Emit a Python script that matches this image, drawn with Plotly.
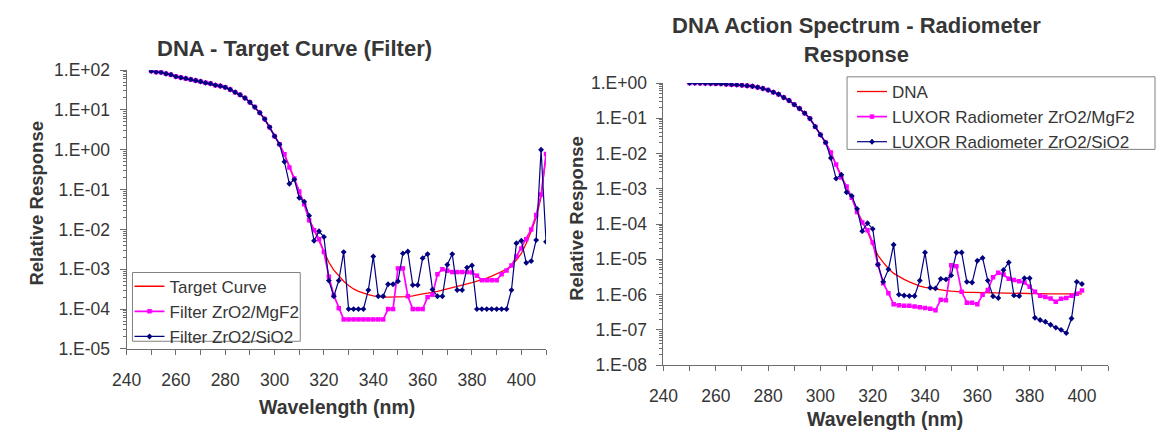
import plotly.graph_objects as go

# ---------------- data ----------------
wl_left = list(range(250, 412, 2))    # 250..410 nm
wl_right = list(range(250, 402, 2))   # 250..400 nm

left_target = [95, 90, 88, 81, 77, 69, 65, 62, 58.5, 55,
               52, 48, 46, 42, 40, 37, 32.6, 28, 24, 20,
               15.6, 11.8, 8.5, 5.9, 3.7, 2.2, 1.37, 0.75, 0.36, 0.19,
               0.09, 0.043, 0.018, 0.0095, 0.0055, 0.0028, 1.5e-3, 9.5e-4, 6.9e-4, 5.0e-4,
               3.9e-4, 3.2e-4, 2.8e-4, 2.5e-4, 2.3e-4, 2.15e-4, 2.05e-4, 2.0e-4, 2.0e-4, 2.0e-4,
               2.0e-4, 2.0e-4, 2.05e-4, 2.15e-4, 2.3e-4, 2.4e-4, 2.5e-4, 2.6e-4, 2.8e-4, 3.0e-4,
               3.2e-4, 3.4e-4, 3.7e-4, 4.0e-4, 4.3e-4, 4.6e-4, 5.0e-4, 5.3e-4, 6.0e-4, 6.7e-4,
               7.6e-4, 8.7e-4, 1.0e-3, 1.25e-3, 1.7e-3, 2.5e-3, 4.5e-3, 9.0e-3, 2.0e-2, 6.5e-2,
               0.7]

left_mgf2 = [95, 90, 88, 81, 77, 69, 65, 62, 58.5, 55,
             52, 48, 46, 42, 40, 37, 32.6, 28, 24, 20,
             15.6, 11.8, 8.5, 5.9, 3.7, 2.2, 1.37, 0.77, 0.36, 0.19,
             0.09, 0.043, 0.017, 0.0095, 0.0057, 0.0027, 6.5e-4, 2.2e-4, 1.05e-4, 5.5e-5,
             5.5e-5, 5.5e-5, 5.5e-5, 5.5e-5, 5.5e-5, 5.5e-5, 5.5e-5, 5.5e-5, 1.0e-4, 1.0e-4,
             1.05e-3, 1.05e-3, 2.1e-4, 1.0e-4, 1.0e-4, 1.0e-4, 2.0e-4, 2.3e-4, 7.5e-4, 1.0e-3,
             9.2e-4, 8.5e-4, 8.5e-4, 8.5e-4, 8.5e-4, 8.3e-4, 6.9e-4, 5.3e-4, 5.3e-4, 5.3e-4,
             5.3e-4, 7.5e-4, 9.3e-4, 1.25e-3, 2.1e-3, 3.3e-3, 5.7e-3, 1.0e-2, 2.3e-2, 7.5e-2,
             0.78]

left_sio2 = [95, 90, 88, 81, 77, 69, 65, 62, 58.5, 55,
             52, 48, 46, 42, 40, 37, 32.6, 28, 24, 20,
             15.6, 11.8, 8.5, 5.9, 3.7, 2.2, 1.37, 0.50, 0.14, 0.18,
             0.062, 0.050, 0.022, 0.0052, 0.0090, 0.0065, 5.2e-4, 2.1e-4, 5.2e-4, 2.7e-3,
             1e-4, 1e-4, 1e-4, 1e-4, 3.0e-4, 2.1e-3, 2.1e-4, 2.1e-4, 4.2e-4, 4.2e-4,
             5.0e-4, 2.5e-3, 2.8e-3, 4.0e-4, 4.0e-4, 1.9e-3, 2.4e-3, 3.1e-4, 2.1e-4, 2.1e-4,
             1.3e-3, 2.4e-3, 3.0e-4, 3.0e-4, 1.1e-3, 1.25e-3, 1e-4, 1e-4, 1e-4, 1e-4,
             1e-4, 1e-4, 1e-4, 3.0e-4, 4.5e-3, 5.2e-3, 1.45e-3, 1.6e-3, 5.4e-3, 1.0,
             4.9e-3]

right_dna = [1.0, 1.0, 0.99, 0.98, 0.97, 0.96, 0.95, 0.93, 0.91, 0.89,
             0.87, 0.84, 0.81, 0.76, 0.70, 0.63, 0.55, 0.48, 0.39, 0.32,
             0.245, 0.19, 0.14, 0.098, 0.058, 0.034, 0.02, 0.0105, 0.0049, 0.0022,
             1.1e-3, 5.5e-4, 2.4e-4, 1.2e-4, 6.3e-5, 2.6e-5, 1.3e-5, 8.2e-6, 5.5e-6, 4.0e-6,
             3.2e-6, 2.7e-6, 2.3e-6, 2.0e-6, 1.75e-6, 1.6e-6, 1.5e-6, 1.42e-6, 1.35e-6, 1.3e-6,
             1.25e-6, 1.2e-6, 1.18e-6, 1.16e-6, 1.15e-6, 1.14e-6, 1.13e-6, 1.12e-6, 1.11e-6, 1.1e-6,
             1.09e-6, 1.08e-6, 1.07e-6, 1.06e-6, 1.06e-6, 1.05e-6, 1.05e-6, 1.05e-6, 1.05e-6, 1.05e-6,
             1.05e-6, 1.05e-6, 1.05e-6, 1.05e-6, 1.05e-6, 1.05e-6]

right_mgf2 = [1.0, 1.0, 0.99, 0.98, 0.97, 0.96, 0.95, 0.93, 0.91, 0.89,
              0.87, 0.84, 0.81, 0.76, 0.70, 0.63, 0.55, 0.48, 0.39, 0.32,
              0.245, 0.19, 0.14, 0.098, 0.058, 0.034, 0.0205, 0.0107, 0.0049, 0.0021,
              1.16e-3, 5.6e-4, 2.2e-4, 1.1e-4, 6.7e-5, 3.0e-5, 7.1e-6, 2.1e-6, 1.1e-6, 5.3e-7,
              5.0e-7, 4.8e-7, 4.8e-7, 4.6e-7, 4.4e-7, 4.2e-7, 4.0e-7, 3.6e-7, 7.2e-7, 6.9e-7,
              6.8e-6, 6.4e-6, 1.2e-6, 5.9e-7, 5.9e-7, 5.3e-7, 9.9e-7, 1.35e-6, 3.1e-6, 4.2e-6,
              3.7e-6, 2.8e-6, 2.6e-6, 2.4e-6, 2.2e-6, 1.66e-6, 1.2e-6, 9.3e-7, 8.6e-7, 7.8e-7,
              6.3e-7, 7.6e-7, 8.0e-7, 9.3e-7, 1.05e-6, 1.3e-6]

right_sio2 = [1.0, 1.0, 0.99, 0.98, 0.97, 0.96, 0.95, 0.93, 0.91, 0.89,
              0.87, 0.84, 0.81, 0.76, 0.70, 0.63, 0.55, 0.48, 0.39, 0.32,
              0.245, 0.19, 0.14, 0.098, 0.058, 0.034, 0.0205, 0.0075, 0.00195, 0.0025,
              8.0e-4, 6.3e-4, 2.7e-4, 6.3e-5, 1.06e-4, 7.3e-5, 7.1e-6, 2.3e-6, 5.2e-6, 2.6e-5,
              1.0e-6, 9.4e-7, 9.1e-7, 9.1e-7, 2.5e-6, 1.56e-5, 1.56e-6, 1.5e-6, 2.8e-6, 2.7e-6,
              3.5e-6, 1.56e-5, 1.56e-5, 2.3e-6, 2.2e-6, 9.1e-6, 1.1e-5, 2.5e-6, 9.0e-7, 8.0e-7,
              5.0e-6, 8.2e-6, 9.5e-7, 9.1e-7, 2.9e-6, 2.9e-6, 2.2e-7, 1.9e-7, 1.7e-7, 1.4e-7,
              1.16e-7, 1.0e-7, 8.1e-8, 2.1e-7, 2.3e-6, 2.0e-6]

left_ytick_vals = [1e-5, 1e-4, 1e-3, 1e-2, 1e-1, 1e0, 1e1, 1e2]
left_ytick_text = ["1.E-05", "1.E-04", "1.E-03", "1.E-02", "1.E-01", "1.E+00", "1.E+01", "1.E+02"]
right_ytick_vals = [1e-8, 1e-7, 1e-6, 1e-5, 1e-4, 1e-3, 1e-2, 1e-1, 1e0]
right_ytick_text = ["1.E-08", "1.E-07", "1.E-06", "1.E-05", "1.E-04", "1.E-03", "1.E-02", "1.E-01", "1.E+00"]

# ---------------- style ----------------
W, H = 1156, 441
FONT = "Liberation Sans, Arial, sans-serif"
TXT = "#363636"
AXC = "#6e6e6e"
RED = "#FF0000"
MAG = "#FF00FF"
NAVY = "#000080"


def px(xp):
    return xp / W


def py(yp):
    return 1 - yp / H


def minor_log(lo, hi):
    vals = []
    for e in range(lo, hi):
        for k in range(2, 10):
            vals.append(k * 10.0 ** e)
    return vals


fig = go.Figure()

MS_SQ = 4.5
MS_DI = 4.5

# left chart
fig.add_trace(go.Scatter(x=wl_left, y=left_target, mode="lines", name="Target Curve",
                         line=dict(color=RED, width=1.3), xaxis="x", yaxis="y", legend="legend"))
fig.add_trace(go.Scatter(x=wl_left, y=left_mgf2, mode="lines+markers", name="Filter ZrO2/MgF2",
                         line=dict(color=MAG, width=1.7),
                         marker=dict(symbol="square", size=MS_SQ, color=MAG),
                         xaxis="x", yaxis="y", legend="legend"))
fig.add_trace(go.Scatter(x=wl_left, y=left_sio2, mode="lines+markers", name="Filter ZrO2/SiO2",
                         line=dict(color=NAVY, width=1.2),
                         marker=dict(symbol="diamond", size=MS_DI, color=NAVY),
                         xaxis="x", yaxis="y", legend="legend"))

# right chart
fig.add_trace(go.Scatter(x=wl_right, y=right_dna, mode="lines", name="DNA",
                         line=dict(color=RED, width=1.3), xaxis="x2", yaxis="y2", legend="legend2"))
fig.add_trace(go.Scatter(x=wl_right, y=right_mgf2, mode="lines+markers", name="LUXOR Radiometer ZrO2/MgF2",
                         line=dict(color=MAG, width=1.7),
                         marker=dict(symbol="square", size=MS_SQ, color=MAG),
                         xaxis="x2", yaxis="y2", legend="legend2"))
fig.add_trace(go.Scatter(x=wl_right, y=right_sio2, mode="lines+markers", name="LUXOR Radiometer ZrO2/SiO2",
                         line=dict(color=NAVY, width=1.2),
                         marker=dict(symbol="diamond", size=MS_DI, color=NAVY),
                         xaxis="x2", yaxis="y2", legend="legend2"))

tickfont = dict(family=FONT, size=17.5, color=TXT)

xcommon = dict(range=[240, 410], tick0=240, dtick=20, ticks="outside", ticklen=5, tickwidth=1,
               tickcolor=AXC, showline=True, linecolor=AXC, linewidth=1, showgrid=False,
               zeroline=False, tickfont=tickfont, ticklabelstandoff=10,
               minor=dict(tick0=240, dtick=10, ticks="outside", ticklen=5, tickcolor=AXC, showgrid=False))

legfont = dict(family=FONT, size=17, color=TXT)

fig.update_layout(
    width=W, height=H,
    margin=dict(l=0, r=0, t=0, b=0),
    paper_bgcolor="white", plot_bgcolor="white",
    font=dict(family=FONT, color=TXT),
    xaxis=dict(domain=[px(113), px(538)], anchor="y", **xcommon),
    yaxis=dict(domain=[py(355), py(63)], anchor="x", type="log", range=[-5, 2],
               tickmode="array", tickvals=left_ytick_vals, ticktext=left_ytick_text,
               ticks="outside", ticklen=6, tickcolor=AXC, showline=True, linecolor=AXC,
               showgrid=False, zeroline=False, tickfont=tickfont, ticklabelstandoff=6,
               minor=dict(tickmode="array", tickvals=minor_log(-5, 2), ticks="outside",
                          ticklen=3, tickcolor=AXC, showgrid=False)),
    xaxis2=dict(domain=[px(657), px(1107.5)], anchor="y2", **xcommon),
    yaxis2=dict(domain=[py(372), py(76.5)], anchor="x2", type="log", range=[-8, 0],
                tickmode="array", tickvals=right_ytick_vals, ticktext=right_ytick_text,
                ticks="outside", ticklen=6, tickcolor=AXC, showline=True, linecolor=AXC,
                showgrid=False, zeroline=False, tickfont=tickfont, ticklabelstandoff=6,
                minor=dict(tickmode="array", tickvals=minor_log(-8, 0), ticks="outside",
                           ticklen=3, tickcolor=AXC, showgrid=False)),
    legend=dict(x=px(116), y=py(271), xanchor="left", yanchor="top",
                bgcolor="rgba(0,0,0,0)", borderwidth=0,
                font=legfont, tracegroupgap=0, itemwidth=30),
    legend2=dict(x=px(848), y=py(67), xanchor="left", yanchor="top",
                 bgcolor="rgba(0,0,0,0)", borderwidth=0,
                 font=legfont, tracegroupgap=0, itemwidth=30),
    showlegend=True,
)

# legend frames (opaque boxes as in the original)
fig.add_shape(type="rect", xref="paper", yref="paper",
              x0=px(119), x1=px(289), y0=py(347), y1=py(275),
              line=dict(color="#808080", width=1), fillcolor="white", layer="above")
fig.add_shape(type="rect", xref="paper", yref="paper",
              x0=px(843), x1=px(1155), y0=py(146), y1=py(70),
              line=dict(color="#808080", width=1), fillcolor="white", layer="above")

ann_title = dict(family=FONT, size=22, color=TXT)
fig.add_annotation(x=px(283), y=py(40), xref="paper", yref="paper", showarrow=False,
                   text="<b>DNA - Target Curve (Filter)</b>", font=ann_title,
                   xanchor="center", yanchor="middle")
fig.add_annotation(x=px(853), y=py(31), xref="paper", yref="paper", showarrow=False,
                   text="<b>DNA Action Spectrum - Radiometer<br>Response</b>", font=ann_title,
                   xanchor="center", yanchor="middle")
xt_font = dict(family=FONT, size=19.5, color=TXT)
yt_font = dict(family=FONT, size=18.5, color=TXT)
fig.add_annotation(x=px(326), y=py(416), xref="paper", yref="paper", showarrow=False,
                   text="<b>Wavelength (nm)</b>", font=xt_font, xanchor="center", yanchor="middle")
fig.add_annotation(x=px(881), y=py(428), xref="paper", yref="paper", showarrow=False,
                   text="<b>Wavelength (nm)</b>", font=xt_font, xanchor="center", yanchor="middle")
fig.add_annotation(x=px(22), y=py(202), xref="paper", yref="paper", showarrow=False,
                   text="<b>Relative Response</b>", font=yt_font, textangle=-90,
                   xanchor="center", yanchor="middle")
fig.add_annotation(x=px(568), y=py(218), xref="paper", yref="paper", showarrow=False,
                   text="<b>Relative Response</b>", font=yt_font, textangle=-90,
                   xanchor="center", yanchor="middle")

fig.write_html("out.html")
